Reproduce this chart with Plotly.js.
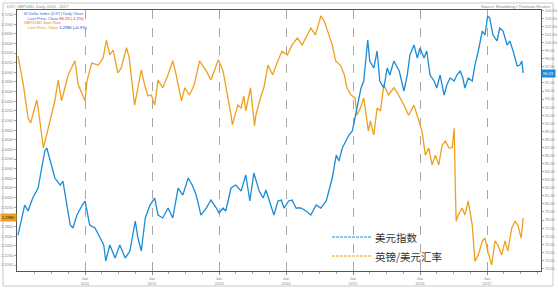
<!DOCTYPE html>
<html><head><meta charset="utf-8">
<script src="https://cdn.plot.ly/plotly-3.0.1.min.js"></script>
<style>html,body{margin:0;padding:0;background:#fff}#chart{width:558px;height:289px}</style>
</head><body><div id="chart"></div>
<script>
// 美元指数 (DXY) — decimal-year dates and values
const dxyDates = [2010.00,2010.06,2010.10,2010.15,2010.22,2010.30,2010.36,2010.40,2010.43,2010.48,2010.55,2010.63,2010.67,2010.73,2010.78,2010.82,2010.88,2010.96,2011.00,2011.03,2011.07,2011.15,2011.22,2011.28,2011.31,2011.37,2011.45,2011.52,2011.60,2011.67,2011.75,2011.79,2011.84,2011.90,2011.97,2012.04,2012.09,2012.16,2012.24,2012.31,2012.39,2012.46,2012.54,2012.60,2012.66,2012.73,2012.81,2012.88,2012.96,2013.00,2013.06,2013.10,2013.18,2013.25,2013.33,2013.40,2013.46,2013.52,2013.60,2013.66,2013.70,2013.78,2013.82,2013.88,2013.93,2013.97,2014.04,2014.09,2014.15,2014.22,2014.30,2014.37,2014.45,2014.52,2014.60,2014.64,2014.69,2014.75,2014.79,2014.84,2014.90,2014.94,2014.99,2015.04,2015.07,2015.12,2015.16,2015.19,2015.22,2015.25,2015.31,2015.36,2015.40,2015.46,2015.51,2015.55,2015.61,2015.69,2015.76,2015.81,2015.85,2015.91,2015.96,2016.00,2016.06,2016.10,2016.15,2016.21,2016.25,2016.30,2016.36,2016.40,2016.45,2016.51,2016.55,2016.60,2016.64,2016.67,2016.72,2016.78,2016.82,2016.87,2016.93,2016.97,2017.01,2017.04,2017.09,2017.15,2017.19,2017.24,2017.30,2017.34,2017.39,2017.45,2017.49,2017.52,2017.54];
const dxyValues = [76.14,78.62,79.86,79.12,80.73,81.97,84.82,86.56,86.93,85.32,83.21,82.34,82.84,79.86,77.38,77.01,78.62,79.86,80.36,79.12,77.38,77.01,75.77,74.90,72.92,74.90,73.29,74.90,73.29,74.16,77.88,75.77,74.16,78.26,79.86,80.73,78.62,78.26,79.49,78.26,81.97,81.10,83.21,82.34,81.10,78.62,79.49,80.48,79.49,78.87,79.49,79.12,81.97,82.34,81.60,83.58,80.36,83.83,81.60,80.73,81.72,79.49,78.62,80.36,80.48,79.49,80.36,80.48,79.49,79.49,79.12,78.62,79.86,79.49,80.36,81.60,83.21,86.06,85.32,86.93,87.80,88.54,89.04,91.02,92.26,94.37,95.24,98.09,100.32,97.72,96.85,98.96,95.24,94.37,96.85,95.98,97.72,96.48,94.00,95.98,98.46,99.70,98.09,99.33,98.09,98.96,95.98,95.24,94.37,95.98,93.50,94.74,95.61,95.24,95.98,96.48,95.61,94.37,95.61,95.24,97.22,98.96,101.44,100.94,103.30,103.05,100.94,100.20,101.81,101.44,99.70,100.20,98.96,97.10,97.22,97.72,96.23];

// 英镑/美元汇率 (GBP/USD)
const gbpDates = [2010.00,2010.08,2010.15,2010.19,2010.28,2010.30,2010.38,2010.41,2010.48,2010.55,2010.60,2010.65,2010.75,2010.85,2010.90,2010.97,2011.00,2011.03,2011.10,2011.20,2011.27,2011.32,2011.37,2011.42,2011.49,2011.54,2011.62,2011.66,2011.72,2011.74,2011.79,2011.84,2011.89,2011.94,2011.99,2012.04,2012.09,2012.16,2012.24,2012.31,2012.36,2012.44,2012.49,2012.56,2012.61,2012.63,2012.71,2012.81,2012.88,2012.96,2012.99,2013.06,2013.13,2013.18,2013.20,2013.28,2013.33,2013.37,2013.40,2013.47,2013.53,2013.55,2013.63,2013.67,2013.73,2013.80,2013.88,2013.94,2014.02,2014.09,2014.17,2014.24,2014.32,2014.37,2014.44,2014.52,2014.57,2014.64,2014.69,2014.74,2014.82,2014.87,2014.91,2014.97,2015.03,2015.06,2015.11,2015.16,2015.23,2015.26,2015.31,2015.36,2015.41,2015.46,2015.53,2015.61,2015.68,2015.76,2015.83,2015.91,2015.98,2016.03,2016.08,2016.13,2016.18,2016.23,2016.28,2016.33,2016.38,2016.43,2016.48,2016.51,2016.53,2016.54,2016.57,2016.63,2016.67,2016.72,2016.78,2016.82,2016.87,2016.93,2016.97,2017.01,2017.07,2017.12,2017.16,2017.22,2017.27,2017.31,2017.37,2017.42,2017.46,2017.51,2017.54];
const gbpValues = [1.634,1.574,1.505,1.495,1.543,1.526,1.443,1.460,1.505,1.541,1.584,1.541,1.595,1.624,1.574,1.551,1.541,1.582,1.619,1.615,1.630,1.667,1.636,1.646,1.599,1.609,1.651,1.630,1.561,1.532,1.568,1.605,1.574,1.551,1.553,1.532,1.584,1.568,1.595,1.624,1.595,1.541,1.568,1.553,1.568,1.574,1.624,1.603,1.584,1.615,1.626,1.603,1.553,1.511,1.491,1.532,1.526,1.551,1.520,1.568,1.489,1.511,1.553,1.568,1.615,1.595,1.624,1.644,1.636,1.657,1.671,1.657,1.678,1.692,1.678,1.717,1.707,1.678,1.657,1.624,1.613,1.595,1.568,1.553,1.547,1.511,1.526,1.547,1.478,1.499,1.470,1.526,1.520,1.574,1.553,1.568,1.553,1.532,1.511,1.532,1.499,1.478,1.428,1.443,1.408,1.428,1.408,1.449,1.457,1.443,1.443,1.484,1.345,1.291,1.304,1.318,1.304,1.333,1.283,1.208,1.221,1.250,1.256,1.229,1.200,1.250,1.242,1.221,1.250,1.229,1.277,1.291,1.283,1.256,1.298];

const yearTicks = [2010,2011,2012,2013,2014,2015,2016,2017];
const seriesNames = ['美元指数','英镑/美元汇率'];

const BLUE = '#1a8cd8', ORANGE = '#f0a01e';
const W = 558, H = 289, L = 17, R = 541, T = 10, B = 271;
const px = x => (x - L) / (R - L);
const py = y => (B - y) / (B - T);

const minor = [];
yearTicks.forEach(y => { [0.25,0.5,0.75].forEach(f => minor.push(y + f)); });

const gbpLast = gbpValues[gbpValues.length-1];
const dxyLast = dxyValues[dxyValues.length-1];
// axis ticks, leaving room for the last-value markers
const gbpTicks = [], dxyTicks = [];
for (let v = 1.20; v <= 1.721; v += 0.02) { const r = Math.round(v*100)/100; if (Math.abs(r - gbpLast) > 0.012) gbpTicks.push(r); }
for (let v = 72; v <= 104; v += 1) { if (Math.abs(v - dxyLast) > 0.7) dxyTicks.push(v); }

const traces = [
  {x: gbpDates, y: gbpValues, yaxis: 'y', type: 'scatter', mode: 'lines', name: seriesNames[1],
   line: {color: ORANGE, width: 1.3}, hoverinfo: 'skip'},
  {x: dxyDates, y: dxyValues, yaxis: 'y2', type: 'scatter', mode: 'lines', name: seriesNames[0],
   line: {color: BLUE, width: 1.3}, hoverinfo: 'skip'}
];

const tinyFont = {family: 'Liberation Sans, Arial', size: 4, color: '#888'};

const shapes = [
  {type: 'rect', xref: 'paper', yref: 'paper', x0: px(3), x1: px(553), y0: py(286), y1: py(3),
   line: {color: '#c8c8c8', width: 1}, layer: 'below'},
  {type: 'line', xref: 'paper', yref: 'paper', x0: px(332), x1: px(372), y0: py(237), y1: py(237),
   line: {color: BLUE, width: 1, dash: '3px,1px'}},
  {type: 'line', xref: 'paper', yref: 'paper', x0: px(332), x1: px(372), y0: py(256), y1: py(256),
   line: {color: ORANGE, width: 1, dash: '3px,1px'}}
];

const annotations = [
  {xref: 'paper', yref: 'paper', x: px(373), y: py(237), xanchor: 'left', yanchor: 'middle', showarrow: false,
   text: seriesNames[0], font: {family: 'Noto Sans CJK SC', size: 10.5, color: '#333'}},
  {xref: 'paper', yref: 'paper', x: px(373), y: py(256), xanchor: 'left', yanchor: 'middle', showarrow: false,
   text: seriesNames[1], font: {family: 'Noto Sans CJK SC', size: 10.5, color: '#333'}},
  {xref: 'paper', yref: 'paper', x: px(5), y: py(6), xanchor: 'left', yanchor: 'middle', showarrow: false,
   text: 'DXY, GBPUSD, Daily, 2010 - 2017', font: tinyFont},
  {xref: 'paper', yref: 'paper', x: px(552), y: py(6), xanchor: 'right', yanchor: 'middle', showarrow: false,
   text: 'Source: Bloomberg / Thomson Reuters', font: tinyFont},
  {xref: 'paper', yref: 'paper', x: px(22), y: py(13.5), xanchor: 'left', yanchor: 'middle', showarrow: false, align: 'left',
   text: '<span style="color:#2a6fd0">Ψ Dollar Index (DXY) Daily Close</span>', font: {family: 'Liberation Sans', size: 4}},
  {xref: 'paper', yref: 'paper', x: px(26), y: py(18.5), xanchor: 'left', yanchor: 'middle', showarrow: false, align: 'left',
   text: '<span style="color:#2a6fd0">Last Price, Close </span><span style="color:#d02020">96.23 (-1.2%)</span>', font: {family: 'Liberation Sans', size: 4}},
  {xref: 'paper', yref: 'paper', x: px(22), y: py(23), xanchor: 'left', yanchor: 'middle', showarrow: false, align: 'left',
   text: '<span style="color:#e08a10">GBP/USD Spot Rate</span>', font: {family: 'Liberation Sans', size: 4}},
  {xref: 'paper', yref: 'paper', x: px(26), y: py(27.5), xanchor: 'left', yanchor: 'middle', showarrow: false, align: 'left',
   text: '<span style="color:#e08a10">Last Price, Close </span><span style="color:#2030c0">1.2980 (+0.9%)</span>', font: {family: 'Liberation Sans', size: 4}},
  {xref: 'paper', yref: 'y', x: 0, y: gbpLast, xanchor: 'right', yanchor: 'middle', showarrow: false,
   text: gbpLast.toFixed(4), bgcolor: ORANGE, font: {family: 'Liberation Sans', size: 4, color: '#222'}, borderpad: 1},
  {xref: 'paper', yref: 'y2', x: 1, y: dxyLast, xanchor: 'left', yanchor: 'middle', showarrow: false,
   text: dxyLast.toFixed(2), bgcolor: BLUE, font: {family: 'Liberation Sans', size: 4, color: '#fff'}, borderpad: 1}
];

const layout = {
  width: W, height: H,
  margin: {l: L, r: W - R, t: T, b: H - B, pad: 0},
  paper_bgcolor: '#fff', plot_bgcolor: '#fff',
  showlegend: false,
  xaxis: {
    range: [2009.985, 2017.806], type: 'linear',
    tickvals: yearTicks.slice(1), ticktext: yearTicks.slice(1).map(y => 'Jan<br>' + y),
    tickfont: tinyFont, ticks: 'outside', ticklen: 3, tickcolor: '#888',
    showgrid: true, gridcolor: '#a8a8a8', griddash: 'dash', gridwidth: 1,
    minor: {tickvals: minor, ticks: 'outside', ticklen: 2, tickcolor: '#aaa', showgrid: false},
    showline: true, linecolor: '#555', linewidth: 1, mirror: true, zeroline: false
  },
  yaxis: {
    range: [1.1876, 1.7294], tickvals: gbpTicks, tickformat: '.4f',
    tickfont: tinyFont, ticks: 'outside', ticklen: 2, tickcolor: '#aaa',
    showgrid: false, zeroline: false, showline: true, linecolor: '#555', linewidth: 1, mirror: true
  },
  yaxis2: {
    range: [71.68, 104.044], tickvals: dxyTicks, tickformat: '.2f', overlaying: 'y', side: 'right',
    tickfont: tinyFont, ticks: 'outside', ticklen: 2, tickcolor: '#aaa',
    showgrid: false, zeroline: false, showline: false
  },
  shapes: shapes,
  annotations: annotations
};

Plotly.newPlot('chart', traces, layout, {staticPlot: true, displayModeBar: false});
</script>
</body></html>
